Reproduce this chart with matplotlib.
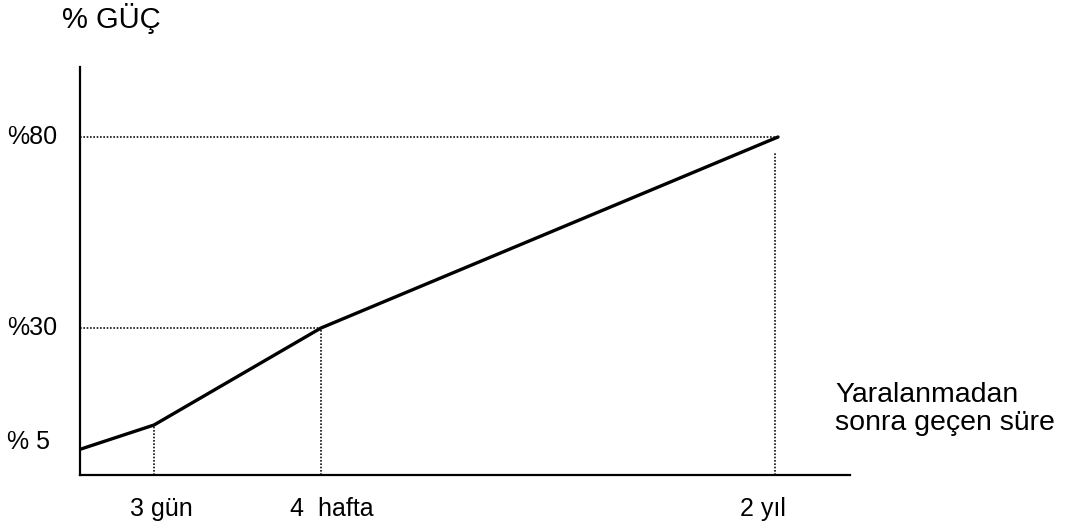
import matplotlib.pyplot as plt

plt.rcParams["font.family"] = ["Liberation Sans", "DejaVu Sans"]

# --- data (arbitrary units) ---
x_pts = [1, 74, 241, 698]
y_pts = [26, 50, 147, 338]
x_labels = ["3 gün", "4  hafta", "2 yıl"]
y_labels = ["% 5", "%30", "%80"]
label_x = [50, 210, 660]      # left edge of x labels
label_y = [33, 147, 338]      # centre of y labels

W, H = 1073, 529
fig = plt.figure(figsize=(W / 100, H / 100), dpi=100)
ax = fig.add_axes([80 / W, (H - 475) / H, 770 / W, 408 / H])
ax.set_xlim(0, 770)
ax.set_ylim(0, 408)

for s in ["top", "right"]:
    ax.spines[s].set_visible(False)
for s in ["left", "bottom"]:
    ax.spines[s].set_linewidth(1.6)
ax.set_xticks([])
ax.set_yticks([])

# main curve
ax.plot(x_pts, y_pts, color="black", lw=2.4, solid_capstyle="round", clip_on=False)

# dotted guide lines
dot = dict(color="#111111", lw=1.2, linestyle=(0, (1, 1)), clip_on=False)
ax.plot([x_pts[1], x_pts[1]], [0, y_pts[1]], **dot)
ax.plot([x_pts[2], x_pts[2]], [0, y_pts[2]], **dot)
ax.plot([0, x_pts[2]], [y_pts[2], y_pts[2]], **dot)
ax.plot([0, x_pts[3]], [y_pts[3], y_pts[3]], **dot)
ax.plot([x_pts[3] - 3, x_pts[3] - 3], [0, y_pts[3] - 15], **dot)

# y labels
for lab, yv in zip(y_labels, label_y):
    ax.text(-73, yv, lab, fontsize=18, ha="left", va="center", clip_on=False)

# x labels
for lab, xv in zip(x_labels, label_x):
    ax.text(xv, -34, lab, fontsize=18, ha="left", va="center", clip_on=False)

fig.text(62 / W, 1 - 18 / H, "% GÜÇ", fontsize=21, ha="left", va="center")
fig.text(835 / W, 1 - 409 / H, "Yaralanmadan\nsonra geçen süre", fontsize=20.5,
         ha="left", va="center", linespacing=1.05)

fig.savefig("out.png", dpi=100, facecolor="white")
